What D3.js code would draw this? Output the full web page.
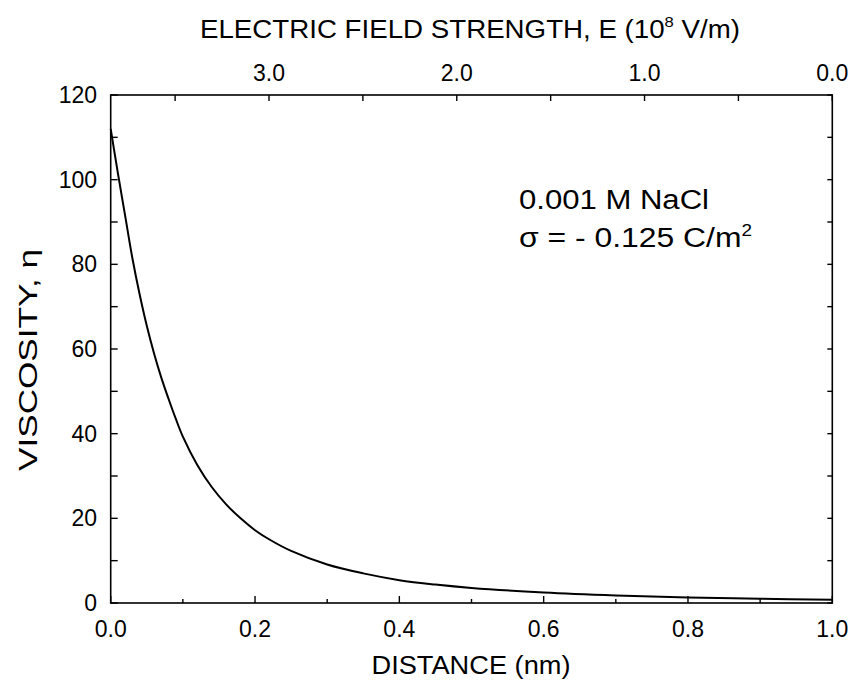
<!DOCTYPE html>
<html><head><meta charset="utf-8">
<script src="https://cdn.jsdelivr.net/npm/d3@7"></script>
<style>body{margin:0;background:#fff}svg{display:block}text{font-family:"Liberation Sans",Arial,sans-serif;fill:#000}</style>
</head><body>
<svg id="c" width="850" height="693"></svg>
<script>
const distance = [0,0.01,0.02,0.03,0.04,0.05,0.06,0.07,0.08,0.09,0.10,0.12,0.14,0.16,0.18,0.20,0.22,0.25,0.30,0.35,0.40,0.45,0.50,0.60,0.70,0.80,0.90,1.00];
const viscosity = [112,101.5,91.5,81.5,73,65.5,59,53.3,48.3,43.6,39.3,32.6,27.4,23.3,20.0,17.2,15.0,12.3,9.1,7.0,5.4,4.35,3.55,2.5,1.8,1.3,1.0,0.75];
const xTicks = [0,0.2,0.4,0.6,0.8,1.0];
const xMinor = [0.1,0.3,0.5,0.7,0.9];
const yTicks = [0,20,40,60,80,100,120];
const yMinor = [10,30,50,70,90,110];
const eTicks = [3.0,2.0,1.0,0.0];
const eMinor = [3.5,2.5,1.5,0.5];

const svg = d3.select("#c");
const L=110.7, R=832.3, T=95, B=603;
const x = d3.scaleLinear().domain([0,1]).range([L,R]);
const y = d3.scaleLinear().domain([0,120]).range([B,T]);
const e = d3.scaleLinear().domain([0,3]).range([832.3,269]);

svg.append("rect").attr("x",L).attr("y",T).attr("width",R-L).attr("height",B-T)
  .attr("fill","none").attr("stroke","#000").attr("stroke-width",1.6);

const g = svg.append("g").attr("stroke","#000").attr("stroke-width",1.4);
xTicks.concat(xMinor).forEach(v=>{
  const len = xTicks.includes(v)?7:4;
  g.append("line").attr("x1",x(v)).attr("x2",x(v)).attr("y1",B).attr("y2",B-len);
});
yTicks.concat(yMinor).forEach(v=>{
  g.append("line").attr("x1",R).attr("x2",R-5).attr("y1",y(v)).attr("y2",y(v));
});
yTicks.concat(yMinor).forEach(v=>{
  g.append("line").attr("x1",L).attr("x2",L+7).attr("y1",y(v)).attr("y2",y(v));
});
eTicks.concat(eMinor).forEach(v=>{
  g.append("line").attr("x1",e(v)).attr("x2",e(v)).attr("y1",T).attr("y2",T+6);
});

const fs = 23;
svg.selectAll(".xl").data(xTicks).enter().append("text")
  .attr("x",d=>x(d)).attr("y",637).attr("text-anchor","middle").attr("font-size",fs)
  .text(d=>d3.format(".1f")(d));
svg.selectAll(".yl").data(yTicks).enter().append("text")
  .attr("x",97).attr("y",d=>y(d)+8).attr("text-anchor","end").attr("font-size",fs)
  .text(d=>d);
svg.selectAll(".el").data(eTicks).enter().append("text")
  .attr("x",d=>e(d)).attr("y",81).attr("text-anchor","middle").attr("font-size",fs)
  .text(d=>d3.format(".1f")(d));

svg.append("text").attr("x",471).attr("y",674).attr("text-anchor","middle").attr("font-size",25)
  .attr("textLength",199).attr("lengthAdjust","spacingAndGlyphs")
  .text("DISTANCE (nm)");
svg.append("text").attr("transform","translate(37,360) rotate(-90)").attr("text-anchor","middle").attr("font-size",25)
  .attr("textLength",222).attr("lengthAdjust","spacingAndGlyphs")
  .text("VISCOSITY, η");
const tt = svg.append("text").attr("x",470).attr("y",38).attr("text-anchor","middle").attr("font-size",25)
  .attr("textLength",540).attr("lengthAdjust","spacingAndGlyphs");
tt.append("tspan").text("ELECTRIC FIELD STRENGTH, E (10");
tt.append("tspan").attr("font-size",15).attr("dy",-11).text("8");
tt.append("tspan").attr("dy",11).text(" V/m)");

svg.append("text").attr("x",519).attr("y",209).attr("font-size",27)
  .attr("textLength",190).attr("lengthAdjust","spacingAndGlyphs").text("0.001 M NaCl");
const s = svg.append("text").attr("x",519).attr("y",247).attr("font-size",27)
  .attr("textLength",233).attr("lengthAdjust","spacingAndGlyphs");
s.append("tspan").text("σ = - 0.125 C/m");
s.append("tspan").attr("font-size",16).attr("dy",-11).text("2");

const line = d3.line().x((d,i)=>x(distance[i])).y(d=>y(d)).curve(d3.curveCatmullRom.alpha(0.5));
svg.append("path").attr("d",line(viscosity)).attr("fill","none").attr("stroke","#000").attr("stroke-width",2);
</script>
</body></html>
